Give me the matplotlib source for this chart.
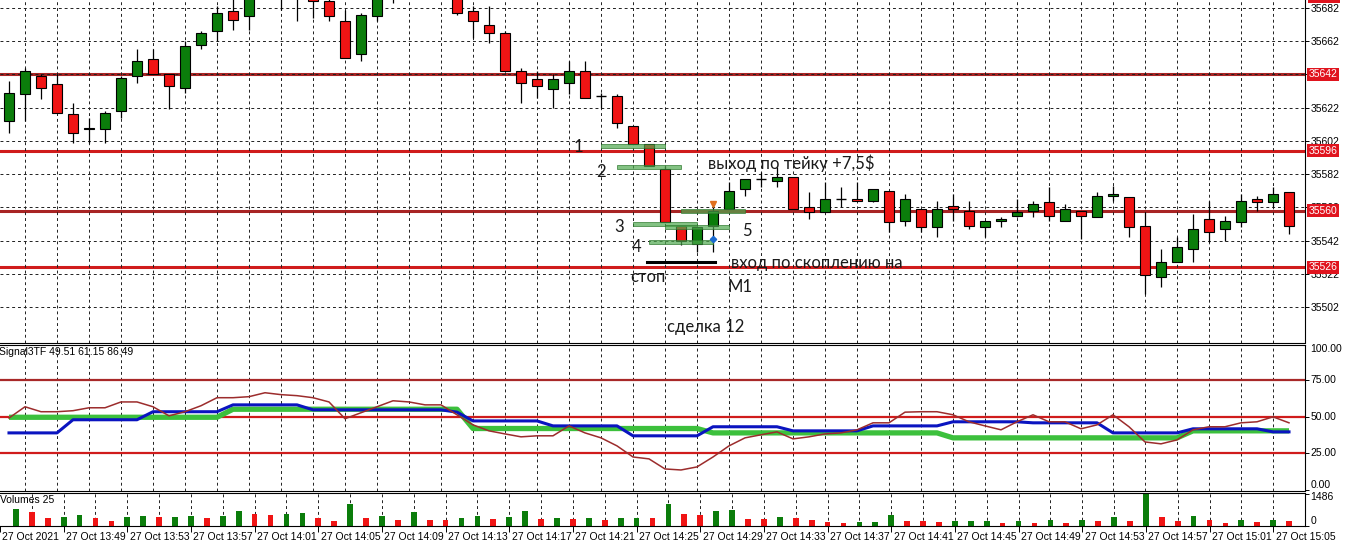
import matplotlib.pyplot as plt
from matplotlib.patches import Rectangle
from matplotlib.transforms import blended_transform_factory as blend

plt.rcParams['font.family'] = ['Liberation Sans', 'DejaVu Sans']

# US30 M1 candles, 27 Oct 2021 13:46 .. 15:06
opens = [35614, 35630, 35641, 35636, 35618, 35609, 35609, 35620, 35641, 35651,
         35642, 35634, 35660, 35668, 35680, 35677, 35693, 35695, 35690, 35696,
         35686, 35674, 35654, 35677, 35695, 35700, 35703, 35698, 35694, 35680,
         35672, 35667, 35644, 35639, 35633, 35637, 35644, 35629, 35629, 35611,
         35600, 35585, 35551, 35540, 35551, 35561, 35573, 35579, 35578, 35580,
         35562, 35559, 35567, 35567, 35566, 35572, 35554, 35561, 35550, 35563,
         35560, 35550, 35554, 35557, 35560, 35565, 35554, 35560, 35556, 35569,
         35568, 35551, 35520, 35529, 35537, 35555, 35549, 35553, 35567, 35565,
         35571]
highs = [35638, 35646, 35642, 35642, 35625, 35616, 35620, 35641, 35657, 35657,
         35642, 35662, 35668, 35683, 35692, 35696, 35700, 35700, 35702, 35700,
         35690, 35681, 35679, 35695, 35705, 35708, 35708, 35702, 35697, 35683,
         35683, 35668, 35646, 35644, 35642, 35650, 35650, 35631, 35630, 35611,
         35600, 35587, 35551, 35550, 35564, 35577, 35579, 35583, 35586, 35580,
         35571, 35577, 35574, 35577, 35573, 35572, 35570, 35561, 35566, 35570,
         35566, 35554, 35556, 35567, 35566, 35574, 35564, 35560, 35571, 35575,
         35568, 35559, 35537, 35544, 35558, 35566, 35557, 35570, 35569, 35574,
         35571]
lows = [35607, 35614, 35627, 35619, 35601, 35601, 35601, 35616, 35637, 35642,
        35621, 35631, 35657, 35662, 35669, 35669, 35688, 35681, 35674, 35676,
        35674, 35652, 35650, 35674, 35685, 35694, 35692, 35689, 35678, 35664,
        35661, 35644, 35625, 35628, 35622, 35630, 35628, 35622, 35610, 35600,
        35587, 35553, 35539, 35535, 35535, 35561, 35569, 35574, 35574, 35561,
        35555, 35559, 35562, 35566, 35565, 35547, 35551, 35547, 35544, 35554,
        35549, 35544, 35550, 35556, 35556, 35554, 35554, 35543, 35556, 35566,
        35544, 35510, 35514, 35529, 35529, 35541, 35542, 35550, 35560, 35562,
        35546]
closes = [35631, 35644, 35634, 35619, 35607, 35610, 35619, 35640, 35650, 35642,
          35635, 35659, 35667, 35679, 35675, 35692, 35697, 35690, 35695, 35686,
          35677, 35652, 35678, 35692, 35700, 35703, 35698, 35694, 35679, 35674,
          35667, 35644, 35637, 35635, 35639, 35644, 35628, 35629, 35613, 35600,
          35587, 35553, 35542, 35550, 35560, 35572, 35579, 35579, 35580, 35561,
          35559, 35567, 35567, 35566, 35573, 35553, 35567, 35550, 35561, 35561,
          35551, 35554, 35555, 35559, 35564, 35557, 35561, 35557, 35569, 35570,
          35550, 35521, 35529, 35538, 35549, 35547, 35554, 35566, 35565, 35570,
          35551]

volumes = [800, 670, 385, 395, 527, 383, 240, 431, 479, 431,
           440, 479, 383, 479, 718, 575, 527, 575, 585, 383,
           240, 1006, 383, 479, 287, 670, 287, 280, 383, 480,
           304, 400, 688, 304, 352, 304, 352, 256, 352, 384,
           375, 1010, 576, 528, 694, 743, 323, 315, 420, 371,
           275, 178, 130, 178, 185, 517, 226, 220, 178, 226,
           230, 235, 130, 226, 130, 275, 130, 275, 226, 420,
           226, 1486, 420, 226, 468, 275, 130, 275, 178, 275,
           226]

# Signal3TF indicator lines
sig_green = [49.5] * 14 + [55] * 15 + [41.8] * 15 + [38.8] * 15 + [35.4] * 15 + [40.2] * 7
sig_blue = ([38.8] * 4 + [47.8] * 5 + [53.3] * 5 + [58] * 5 + [54.6] * 9 + [53] + [47] * 5
            + [43.6] * 5 + [36.8] * 5 + [43] * 5 + [40.2] * 5 + [43.6] * 5 + [46.4] * 5
            + [45.7] * 5 + [38.8] * 5 + [41.6] * 5 + [39.5] * 2)
sig_brown = [49, 56.7, 53.3, 53.3, 54, 56, 56, 60, 60, 56.7,
             50.5, 53.3, 57.4, 62.9, 62.9, 63.6, 66.3, 65, 64.3, 62.9,
             60, 48.5, 52.6, 56.7, 60.8, 60, 58, 58, 51.2, 44.3,
             40.2, 38.1, 36.1, 36.8, 36.8, 43.6, 38.8, 35.4, 29.9, 22.3,
             21, 14.1, 13.4, 15.5, 22.3, 29.9, 35.4, 37.5, 39.5, 34.7,
             36.1, 38.1, 38.8, 40.9, 45.7, 45.7, 53, 53.3, 53.3, 51.2,
             46.4, 43.6, 40.9, 46.4, 51.2, 46.4, 46.4, 41.6, 44.3, 51.2,
             43, 32.6, 31.3, 34, 40.9, 43, 43, 45.7, 46.4, 49.8,
             45.7]
sig_levels = [75, 50, 25]

levels = [35642, 35596, 35560, 35526]
price_ticks = [35682, 35662, 35642, 35622, 35602, 35582, 35562, 35542, 35522, 35502]

# volume cluster marks (start candle, price), stop line, entry arrows
cluster_start = [37, 38, 39, 40, 41, 42]
cluster_price = [35599, 35586, 35552, 35541, 35550, 35560]
stop_x = [39.9, 44.1]
stop_price = 35529

time_idx = [-1, 3, 7, 11, 15, 19, 23, 27, 31, 35, 39, 43, 47, 51, 55, 59, 63, 67, 71, 75, 79]
time_labels = ['27 Oct 2021', '27 Oct 13:49', '27 Oct 13:53', '27 Oct 13:57', '27 Oct 14:01',
               '27 Oct 14:05', '27 Oct 14:09', '27 Oct 14:13', '27 Oct 14:17', '27 Oct 14:21',
               '27 Oct 14:25', '27 Oct 14:29', '27 Oct 14:33', '27 Oct 14:37', '27 Oct 14:41',
               '27 Oct 14:45', '27 Oct 14:49', '27 Oct 14:53', '27 Oct 14:57', '27 Oct 15:01',
               '27 Oct 15:05']

UP, DOWN = '#0b7d0b', '#f01414'
FS = 7.5
W, H = 1359.0, 558.0
fig = plt.figure(figsize=(W / 100, H / 100), dpi=100)


def panel(top, bottom):
    return fig.add_axes([0, 1 - bottom / H, 1305 / W, (bottom - top) / H])


ax = panel(0, 342.5)
ax_ind = panel(345, 491)
ax_vol = panel(493, 526)
n = len(opens)
xs = list(range(n))
grid_ls = (0, (3, 3))

for a in (ax, ax_ind, ax_vol):
    a.set_xlim(-0.5625, 81)
    for s in a.spines.values():
        s.set_linewidth(0.8)
    a.spines['left'].set_visible(False)
    a.yaxis.tick_right()
    a.tick_params(axis='y', direction='out', length=3, width=0.7, labelsize=FS, pad=1)
    a.tick_params(axis='x', length=0, labelbottom=False)
    for k in range(1, n, 2):
        a.axvline(k, color='#202020', lw=0.7, ls=grid_ls, zorder=0.6)
ax.spines['top'].set_visible(False)

# ---- price panel
ax.set_ylim(35480.6, 35686.8)
ax.set_yticks(price_ticks)
ax.set_yticklabels([str(p) for p in price_ticks])
for p in price_ticks:
    ax.axhline(p, color='#202020', lw=0.7, ls=grid_ls, zorder=0.6)
for lv in levels:
    c = '#a82424' if lv in (35642, 35560) else '#d01c1c'
    ax.axhline(lv, color=c, lw=2.2, zorder=0.5)
    ax.text(1.0025, lv, str(lv), transform=blend(ax.transAxes, ax.transData), color='white',
            fontsize=FS, va='center', ha='left', zorder=6, clip_on=False,
            bbox=dict(boxstyle='square,pad=0.15', fc='#e0141e', ec='none'))
# edge of a level label above the visible range
fig.patches.append(Rectangle((1308 / W, 1 - 2.5 / H), 32 / W, 4 / H, transform=fig.transFigure,
                             fc='#e0141e', ec='none'))

for k in xs:
    o, h, l, c = opens[k], highs[k], lows[k], closes[k]
    ax.vlines(k, l, h, color='black', lw=0.9, zorder=2)
    if o == c:
        ax.hlines(o, k - 0.31, k + 0.31, color='black', lw=1.0, zorder=3)
    else:
        ax.bar(k, abs(c - o), bottom=min(o, c), width=0.625, color=UP if c > o else DOWN,
               edgecolor='black', lw=0.8, zorder=3)

for s, p in zip(cluster_start, cluster_price):
    ax.add_patch(Rectangle((s, p - 1.2), 4, 2.4, fc='#4ea84e', ec='#2f7a2f', lw=0.7,
                           alpha=0.7, zorder=4))
ax.plot(stop_x, [stop_price, stop_price], color='black', lw=2.2, zorder=4)
ax.plot([44], [35564], marker='v', ms=4.5, color='#e0701e', zorder=5)
ax.plot([44], [35543], marker='D', ms=3.2, color='#1a6ad0', zorder=5)

note = dict(fontsize=12, family=['Lato', 'DejaVu Sans'], color='#1a1a1a', va='center', zorder=6)
ax.text(35.6, 35598, '1', ha='center', **note)
ax.text(37.0, 35583.5, '2', ha='center', **note)
ax.text(38.1, 35550, '3', ha='center', **note)
ax.text(39.2, 35538, '4', ha='center', **note)
ax.text(46.1, 35548, '5', ha='center', **note)
ax.text(43.7, 35588.7, 'выход по тейку +7,5$', ha='left', **note)
ax.text(38.8, 35520, 'стоп', ha='left', **note)
ax.text(45.1, 35528.5, 'вход по скоплению на', ha='left', **note)
ax.text(44.9, 35514, 'M1', ha='left', **note)
ax.text(41.1, 35490, 'сделка 12', ha='left', **note)

# ---- indicator panel
ax_ind.set_ylim(-1, 99)
ax_ind.set_yticks([0, 25, 50, 75])
ax_ind.set_yticklabels([])
for lv in sig_levels:
    ax_ind.axhline(lv, color='#a82828' if lv == 75 else '#d01c1c', lw=1.6, zorder=1)
ax_ind.plot(xs, sig_green, color='#3cc03c', lw=3.8, solid_capstyle='butt', zorder=2)
ax_ind.plot(xs, sig_blue, color='#0a14c0', lw=2.2, zorder=3)
ax_ind.plot(xs, sig_brown, color='#9c2c2c', lw=1.1, zorder=4)
tr = blend(ax_ind.transAxes, ax_ind.transData)
for v, va in [(100, 'top'), (75, 'center'), (50, 'center'), (25, 'center'), (0, 'bottom')]:
    ax_ind.text(1.004, v, '%.2f' % v, transform=tr, fontsize=FS, va=va, ha='left', clip_on=False)
ax_ind.text(-0.001, 0.952, 'Signal3TF 49.51 61.15 86.49', transform=ax_ind.transAxes,
            fontsize=FS, va='center', ha='left')

# ---- volume panel
ax_vol.set_ylim(0, 1532)
vol_colors = [UP] + [UP if volumes[k] > volumes[k - 1] else DOWN for k in range(1, n)]
ax_vol.bar(xs, volumes, width=0.36, color=vol_colors, zorder=2)
ax_vol.set_yticks([0, 1486])
ax_vol.set_yticklabels([])
ax_vol.text(1.004, 0.88, '1486', transform=ax_vol.transAxes, fontsize=FS, va='center', ha='left')
ax_vol.text(1.004, 0.15, '0', transform=ax_vol.transAxes, fontsize=FS, va='center', ha='left')
ax_vol.text(0.0, 0.79, 'Volumes 25', transform=ax_vol.transAxes, fontsize=FS, va='center', ha='left')
ax_vol.set_xticks(time_idx)
ax_vol.tick_params(axis='x', direction='out', length=4, width=0.7)
trx = blend(ax_vol.transData, ax_vol.transAxes)
for k, lab in zip(time_idx, time_labels):
    ax_vol.text(k + 0.15, -0.33, lab, transform=trx, fontsize=FS, va='center', ha='left',
                clip_on=False)

fig.savefig('out.png', dpi=100)
